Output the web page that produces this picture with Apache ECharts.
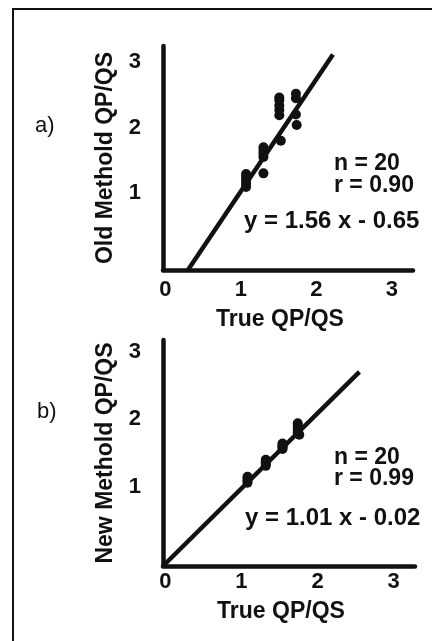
<!DOCTYPE html>
<html>
<head>
<meta charset="utf-8">
<script src="https://cdn.jsdelivr.net/npm/echarts@6/dist/echarts.min.js"></script>
<style>
  html, body { margin: 0; padding: 0; background: #fff; }
  #chart { width: 432px; height: 641px; }
  .frame {
    position: absolute; left: 12px; top: 8px; right: 0; bottom: 0;
    border-left: 2px solid #111; border-top: 2px solid #111;
    pointer-events: none;
  }
</style>
</head>
<body>
<div id="chart"></div>
<div class="frame"></div>
<script>
// tick labels
const xTicks = [0, 1, 2, 3]
const yTicks = [1, 2, 3]

// a) old method vs true QP/QS
const oldX = [1.07, 1.07, 1.07, 1.07, 1.07, 1.30, 1.30, 1.30, 1.30, 1.30,
  1.51, 1.51, 1.51, 1.51, 1.51, 1.53, 1.73, 1.73, 1.73, 1.74]
const oldY = [1.09, 1.14, 1.19, 1.24, 1.29, 1.30, 1.55, 1.60, 1.65, 1.70,
  2.19, 2.27, 2.34, 2.42, 2.46, 1.80, 2.20, 2.45, 2.52, 2.04]
const oldFitX = [0.30, 2.22]
const oldFitY = [-0.18, 3.12]
const oldStats = ['n = 20', 'r = 0.90', 'y = 1.56 x - 0.65']

// b) new method vs true QP/QS
const newX = [1.08, 1.08, 1.08, 1.08, 1.32, 1.32, 1.32, 1.32, 1.32,
  1.54, 1.54, 1.54, 1.54, 1.54, 1.74, 1.74, 1.74, 1.74, 1.74, 1.76]
const newY = [1.06, 1.09, 1.12, 1.15, 1.31, 1.34, 1.37, 1.40, 1.36,
  1.56, 1.58, 1.60, 1.62, 1.64, 1.80, 1.84, 1.87, 1.91, 1.94, 1.77]
const newFitX = [-0.03, 2.55]
const newFitY = [-0.17, 2.70]
const newStats = ['n = 20', 'r = 0.99', 'y = 1.01 x - 0.02']

const FONT = "'Liberation Sans', Arial, sans-serif"
const INK = '#111'

const zip = (xs, ys) => xs.map((x, i) => [x, ys[i]])

const labelStyle = {
  fontFamily: FONT, fontSize: 22, fontWeight: 'bold', color: INK
}

const makeX = (idx, margin, gap) => ({
  gridIndex: idx,
  type: 'value',
  min: -0.03,
  max: 3.28,
  axisLine: { show: true, onZero: false, lineStyle: { color: INK, width: 4.5 } },
  axisTick: { show: false },
  splitLine: { show: false },
  axisLabel: { ...labelStyle, customValues: xTicks, margin: margin },
  name: 'True QP/QS',
  nameLocation: 'middle',
  nameGap: gap,
  nameTextStyle: { ...labelStyle, fontSize: 23, padding: [0, 16, 0, 0] }
})

const makeY = (idx, min, max, name) => ({
  gridIndex: idx,
  type: 'value',
  min: min,
  max: max,
  axisLine: { show: true, onZero: false, lineStyle: { color: INK, width: 4.5 } },
  axisTick: { show: false },
  splitLine: { show: false },
  axisLabel: { ...labelStyle, customValues: yTicks, margin: 22 },
  name: name,
  nameLocation: 'middle',
  nameRotate: 90,
  nameGap: 46,
  nameTextStyle: { ...labelStyle, fontSize: 23 }
})

// n, r on two lines at (x1, y1/y2); equation at (x3, y3)
const statText = (lines, x1, y1, y2, x3, y3) => [
  { type: 'text', x: x1, y: y1, style: { text: lines[0], font: 'bold 23px ' + FONT, fill: INK, verticalAlign: 'middle' } },
  { type: 'text', x: x1, y: y2, style: { text: lines[1], font: 'bold 23px ' + FONT, fill: INK, verticalAlign: 'middle' } },
  { type: 'text', x: x3, y: y3, style: { text: lines[2], font: 'bold 24px ' + FONT, fill: INK, verticalAlign: 'middle' } }
]

const chart = echarts.init(document.getElementById('chart'))

chart.setOption({
  animation: false,
  backgroundColor: '#fff',
  grid: [
    { left: 163, top: 46, width: 250, height: 224 },
    { left: 163, top: 340, width: 252, height: 226 }
  ],
  xAxis: [makeX(0, 9, 38), makeX(1, 5, 34)],
  yAxis: [
    makeY(0, -0.18, 3.25, 'Old Methold QP/QS'),
    makeY(1, -0.17, 3.17, 'New Methold QP/QS')
  ],
  graphic: [
    { type: 'text', x: 35, y: 126, style: { text: 'a)', font: '22px ' + FONT, fill: INK, verticalAlign: 'middle' } },
    { type: 'text', x: 37, y: 412, style: { text: 'b)', font: '22px ' + FONT, fill: INK, verticalAlign: 'middle' } },
    ...statText(oldStats, 334, 164, 186, 244, 221),
    ...statText(newStats, 334, 458, 479, 245, 518)
  ],
  series: [
    {
      type: 'line', xAxisIndex: 0, yAxisIndex: 0,
      data: zip(oldFitX, oldFitY), showSymbol: false, silent: true,
      lineStyle: { color: INK, width: 4.5 }
    },
    {
      type: 'scatter', xAxisIndex: 0, yAxisIndex: 0,
      data: zip(oldX, oldY), symbolSize: 10, silent: true,
      itemStyle: { color: INK, opacity: 1 }
    },
    {
      type: 'line', xAxisIndex: 1, yAxisIndex: 1,
      data: zip(newFitX, newFitY), showSymbol: false, silent: true,
      lineStyle: { color: INK, width: 4.5 }
    },
    {
      type: 'scatter', xAxisIndex: 1, yAxisIndex: 1,
      data: zip(newX, newY), symbolSize: 10, silent: true,
      itemStyle: { color: INK, opacity: 1 }
    }
  ]
})
</script>
</body>
</html>
